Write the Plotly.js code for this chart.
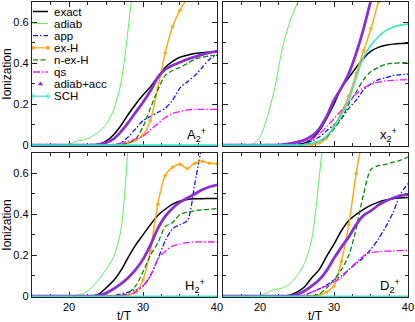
<!DOCTYPE html>
<html><head><meta charset="utf-8">
<script src="https://cdn.plot.ly/plotly-3.0.1.min.js"></script>
<style>html,body{margin:0;padding:0;background:#fff}#chart{width:415px;height:322px}</style>
</head><body><div id="chart"></div>
<script>
// time axis t/T
const t = [15,16,17,18,19,20,21,22,23,24,25,26,27,28,29,30,31,32,33,34,35,36,37,38,39,40];

const seriesNames = ['exact','adiab','app','ex-H','n-ex-H','qs','adiab+acc','SCH'];
const panelLabels = ['A<sub>2</sub><sup>+</sup>','x<sub>2</sub><sup>+</sup>','H<sub>2</sub><sup>+</sup>','D<sub>2</sub><sup>+</sup>'];
const yTickVals = [0, 0.2, 0.4, 0.6];
const yTickText = ['0','0.2','0.4','0.6'];
const xTickVals = [20, 30, 40];
const xTickText = ['20','30','40'];
const yTitle = 'Ionization';
const xTitle = 't/T';

// ---- A2+ ----
const A2_exact = [0,0,0,0,0,0,0,0,0,0.005,0.02,0.05,0.095,0.15,0.2,0.245,0.285,0.335,0.38,0.41,0.43,0.44,0.448,0.452,0.455,0.456];
const A2_adiab = [0,0,0,0,0,0.005,0.02,0.025,0.04,0.065,0.1,0.17,0.3,0.57,0.9,null,null,null,null,null,null,null,null,null,null,null];
const A2_app   = [0,0,0,0,0,0,0,0,0,0,0,0,0.01,0.04,0.08,0.12,0.14,0.16,0.18,0.22,0.28,0.31,0.34,0.38,0.42,0.44];
const A2_exH   = [0,0,0,0,0,0,0,0,0,0,0,0,0.003,0.01,0.025,0.05,0.12,0.28,0.45,0.58,0.66,0.72,null,null,null,null];
const A2_nexH  = [0,0,0,0,0,0,0,0,0,0,0,0,0.003,0.01,0.03,0.09,0.18,0.27,0.34,0.365,0.38,0.40,0.42,0.43,0.437,0.44];
const A2_qs    = [0,0,0,0,0,0,0,0,0,0,0,0.003,0.01,0.02,0.03,0.045,0.075,0.105,0.135,0.155,0.165,0.172,0.175,0.175,0.175,0.175];
const A2_acc   = [0,0,0,0,0,0,0,0,0,0.003,0.012,0.03,0.065,0.11,0.16,0.21,0.265,0.33,0.37,0.39,0.405,0.42,0.432,0.443,0.452,0.46];
const A2_sch   = [0,0,0,0,0,0,0,0,0,0,0,0,0,0,0,0,0,0,0,0,0,0,0,0,0,0];

// ---- x2+ ----
const X2_exact = [0,0,0,0,0,0,0,0,0,0,0.002,0.01,0.03,0.07,0.13,0.2,0.28,0.33,0.38,0.425,0.46,0.478,0.488,0.494,0.497,0.498];
const X2_adiab = [0,0,0,0,0.003,0.04,0.14,0.28,0.47,0.6,0.69,0.76,null,null,null,null,null,null,null,null,null,null,null,null,null,null];
const X2_app   = [0,0,0,0,0,0,0,0,0,0,0.003,0.01,0.02,0.04,0.07,0.1,0.13,0.18,0.22,0.27,0.3,0.32,0.33,0.34,0.345,0.347];
const X2_exH   = [0,0,0,0,0,0,0,0,0,0,0,0,0.003,0.01,0.035,0.09,0.16,0.24,0.35,0.46,0.57,0.7,0.82,null,null,null];
const X2_nexH  = [0,0,0,0,0,0,0,0,0,0,0,0.003,0.01,0.02,0.04,0.08,0.13,0.2,0.26,0.32,0.36,0.38,0.395,0.4,0.402,0.403];
const X2_qs    = [0,0,0,0,0,0,0,0,0.003,0.008,0.012,0.02,0.03,0.055,0.09,0.13,0.17,0.21,0.25,0.28,0.298,0.308,0.314,0.317,0.319,0.32];
const X2_acc   = [0,0,0,0,0,0,0,0,0.003,0.008,0.015,0.025,0.045,0.08,0.14,0.22,0.28,0.35,0.45,0.57,0.71,0.85,null,null,null,null];
const X2_sch   = [0,0,0,0,0,0,0,0,0,0,0,0.002,0.008,0.02,0.045,0.09,0.15,0.22,0.33,0.43,0.49,0.53,0.56,0.578,0.587,0.592];

// ---- H2+ ----
const H2_exact = [0,0,0,0,0,0,0,0,0,0.01,0.04,0.075,0.125,0.19,0.25,0.3,0.35,0.395,0.425,0.45,0.465,0.473,0.476,0.477,0.478,0.478];
const H2_adiab = [0,0,0,0,0,0,0.003,0.015,0.04,0.08,0.13,0.19,0.32,0.75,null,null,null,null,null,null,null,null,null,null,null,null];
const H2_app   = [0,0,0,0,0,0,0,0,0,0,0,0.003,0.01,0.02,0.03,0.05,0.1,0.18,0.27,0.33,0.35,0.37,0.55,0.75,null,null];
const H2_exH   = [0,0,0,0,0,0,0,0,0,0,0,0,0.002,0.006,0.02,0.08,0.22,0.45,0.59,0.63,0.645,0.625,0.65,0.66,0.65,0.648];
const H2_nexH  = [0,0,0,0,0,0,0,0,0,0,0,0,0.003,0.015,0.05,0.12,0.2,0.26,0.34,0.36,0.4,0.41,0.418,0.422,0.425,0.428];
const H2_qs    = [0,0,0,0,0,0,0,0,0,0,0,0,0.003,0.008,0.02,0.05,0.1,0.18,0.22,0.245,0.255,0.262,0.265,0.265,0.265,0.265];
const H2_acc   = [0,0,0,0,0,0,0,0,0,0.003,0.015,0.035,0.06,0.09,0.13,0.18,0.25,0.33,0.39,0.43,0.46,0.48,0.5,0.52,0.535,0.545];
const H2_sch   = [0,0,0,0,0,0,0,0,0,0,0,0,0,0,0,0,0,0,0,0,0,0,0,0,0,0];

// ---- D2+ ----
const D2_exact = [0,0,0,0,0,0,0,0,0,0.005,0.02,0.045,0.09,0.13,0.195,0.255,0.32,0.37,0.4,0.425,0.445,0.46,0.47,0.477,0.48,0.482];
const D2_adiab = [0,0,0,0,0,0.002,0.018,0.033,0.04,0.06,0.1,0.16,0.28,0.58,0.95,null,null,null,null,null,null,null,null,null,null,null];
const D2_app   = [0,0,0,0,0,0,0,0,0,0,0,0.005,0.02,0.035,0.055,0.08,0.1,0.13,0.16,0.19,0.23,0.28,0.34,0.41,0.5,0.55];
const D2_exH   = [0,0,0,0,0,0,0,0,0,0,0,0,0,0.005,0.02,0.05,0.17,0.35,0.6,0.8,null,null,null,null,null,null];
const D2_nexH  = [0,0,0,0,0,0,0,0,0,0,0,0,0.003,0.01,0.04,0.08,0.13,0.2,0.33,0.5,0.62,0.638,0.645,0.655,0.665,0.68];
const D2_qs    = [0,0,0,0,0,0,0,0,0,0,0,0.005,0.02,0.035,0.05,0.07,0.09,0.13,0.165,0.198,0.213,0.218,0.22,0.222,0.223,0.224];
const D2_acc   = [0,0,0,0,0,0,0,0,0,0,0.008,0.025,0.05,0.08,0.125,0.185,0.24,0.29,0.35,0.395,0.418,0.445,0.465,0.48,0.492,0.497];
const D2_sch   = [0,0,0,0,0,0,0,0,0,0,0,0,0,0,0,0,0,0,0,0,0,0,0,0,0,0];

const panelData = [
  [A2_exact, A2_adiab, A2_app, A2_exH, A2_nexH, A2_qs, A2_acc, A2_sch],
  [X2_exact, X2_adiab, X2_app, X2_exH, X2_nexH, X2_qs, X2_acc, X2_sch],
  [H2_exact, H2_adiab, H2_app, H2_exH, H2_nexH, H2_qs, H2_acc, H2_sch],
  [D2_exact, D2_adiab, D2_app, D2_exH, D2_nexH, D2_qs, D2_acc, D2_sch]
];

const FONT = 'Liberation Sans, Arial, Helvetica, sans-serif';

// styles per series
const styles = [
  {mode:'lines', line:{color:'#000000', width:1.5}},
  {mode:'lines', line:{color:'#5cf05c', width:1}},
  {mode:'lines', line:{color:'#1010ff', width:1.3, dash:'5px,2px,1.5px,2px'}},
  {mode:'lines+markers', line:{color:'#ffa81e', width:1.5}, marker:{color:'#ffa81e', size:3.5, symbol:'circle'}},
  {mode:'lines', line:{color:'#0a870a', width:1.3, dash:'5px,2.5px'}},
  {mode:'lines', line:{color:'#ff10ff', width:1.3, dash:'7px,2px,1.5px,2px'}},
  {mode:'lines', line:{color:'#8a2fd2', width:2.8}},
  {mode:'lines', line:{color:'#3ee0d2', width:1.6}}
];

const traces = [];
panelData.forEach((series, p) => {
  const xa = p === 0 ? 'x' : 'x' + (p + 1);
  const ya = p === 0 ? 'y' : 'y' + (p + 1);
  series.forEach((vals, i) => {
    const s = styles[i];
    const tr = {
      type:'scatter', x:t, y:vals, xaxis:xa, yaxis:ya, name:seriesNames[i],
      mode:s.mode, line:Object.assign({shape:'spline', smoothing:0.8}, s.line),
      connectgaps:false, showlegend:false, hoverinfo:'skip'
    };
    if (s.marker) tr.marker = s.marker;
    traces.push(tr);
  });
});

// custom compact legend drawn on an invisible overlay axis inside the top-left panel
const legRow0 = 9.5, legStep = 12.1;
const legX0 = 1, legX1 = 16, legText = 21;
seriesNames.forEach((nm, i) => {
  const ry = legRow0 + i * legStep;
  const s = styles[i];
  let tr;
  if (nm === 'adiab+acc') {
    tr = {type:'scatter', x:[(legX0 + legX1) / 2], y:[ry], mode:'markers',
          marker:{color:s.line.color, size:5, symbol:'triangle-up'}};
  } else if (nm === 'ex-H') {
    tr = {type:'scatter', x:[legX0, legX1], y:[ry, ry], mode:'lines+markers',
          line:{color:s.line.color, width:1.2}, marker:{color:s.line.color, size:4, symbol:'circle'}};
  } else if (nm === 'SCH') {
    tr = {type:'scatter', x:[legX0, legX1], y:[ry, ry], mode:'lines+markers',
          line:{color:s.line.color, width:1.2}, marker:{color:s.line.color, size:4, symbol:'cross-thin', line:{color:s.line.color, width:1}}};
  } else {
    tr = {type:'scatter', x:[legX0, legX1], y:[ry, ry], mode:'lines', line:Object.assign({}, s.line)};
  }
  tr.xaxis = 'x5'; tr.yaxis = 'y5'; tr.showlegend = false; tr.hoverinfo = 'skip';
  traces.push(tr);
});

const annotations = seriesNames.map((nm, i) => ({
  xref:'x5', yref:'y5', x:legText, y:legRow0 + i * legStep, text:nm,
  xanchor:'left', yanchor:'middle', showarrow:false, borderpad:0,
  font:{family:FONT, size:11.5, color:'#000'}
}));

const labelPos = [
  {x:0.948, y:0.005}, {x:0.945, y:0.005}, {x:0.938, y:0.005}, {x:0.96, y:0.005}
];
panelLabels.forEach((lab, p) => {
  const suf = p === 0 ? '' : String(p + 1);
  annotations.push({
    xref:'x' + suf + ' domain', yref:'y' + suf + ' domain',
    x:labelPos[p].x, y:labelPos[p].y, xanchor:'right', yanchor:'bottom',
    text:lab, showarrow:false, borderpad:0,
    font:{family:FONT, size:13, color:'#000'}
  });
});
// x axis titles under the two bottom panels
['x3', 'x4'].forEach(xa => {
  annotations.push({
    xref:xa + ' domain', yref:'paper', x:0.5, y:-0.066, xanchor:'center', yanchor:'middle',
    text:xTitle, showarrow:false, borderpad:0, font:{family:FONT, size:12, color:'#000'}
  });
});

const axBase = {
  showline:true, linecolor:'#222', linewidth:1.2, mirror:'ticks',
  ticks:'inside', ticklen:5, tickwidth:1, tickcolor:'#222',
  showgrid:false, zeroline:false, layer:'below traces',
  tickfont:{family:FONT, size:11, color:'#000'}, fixedrange:true
};
function xAxis(domain, anchor, labels) {
  return Object.assign({}, axBase, {
    domain:domain, anchor:anchor, range:[15, 40],
    tickmode:'array', tickvals:xTickVals, ticktext:xTickText, showticklabels:labels,
    minor:{ticks:'inside', ticklen:3, tickcolor:'#222', dtick:2.5, tick0:0, showgrid:false}
  });
}
function yAxis(domain, anchor, labels, title) {
  const a = Object.assign({}, axBase, {
    domain:domain, anchor:anchor, range:[-0.004, 0.7],
    tickmode:'array', tickvals:yTickVals, ticktext:yTickText, showticklabels:labels,
    minor:{ticks:'inside', ticklen:3, tickcolor:'#222', dtick:0.1, tick0:0, showgrid:false}
  });
  if (title) a.title = {text:title, font:{family:FONT, size:12, color:'#000'}, standoff:2};
  return a;
}

const xL = [0, 0.492], xR = [0.508, 1];
const yT = [0.512, 1], yB = [0, 0.488];

const layout = {
  width:415, height:322,
  margin:{l:32, r:7, t:2, b:25, pad:0},
  paper_bgcolor:'#ffffff', plot_bgcolor:'rgba(0,0,0,0)',
  showlegend:false,
  font:{family:FONT, size:11, color:'#000'},
  xaxis:  xAxis(xL, 'y',  false),
  yaxis:  yAxis(yT, 'x',  true,  yTitle),
  xaxis2: xAxis(xR, 'y2', false),
  yaxis2: yAxis(yT, 'x2', false, null),
  xaxis3: xAxis(xL, 'y3', true),
  yaxis3: yAxis(yB, 'x3', true,  yTitle),
  xaxis4: xAxis(xR, 'y4', true),
  yaxis4: yAxis(yB, 'x4', false, null),
  xaxis5: {domain:[0, 110/376], anchor:'y5', range:[0, 110], visible:false, fixedrange:true},
  yaxis5: {domain:yT, anchor:'x5', range:[144, 0], visible:false, fixedrange:true},
  annotations:annotations
};

Plotly.newPlot('chart', traces, layout, {staticPlot:true, displayModeBar:false});
</script>
</body></html>
